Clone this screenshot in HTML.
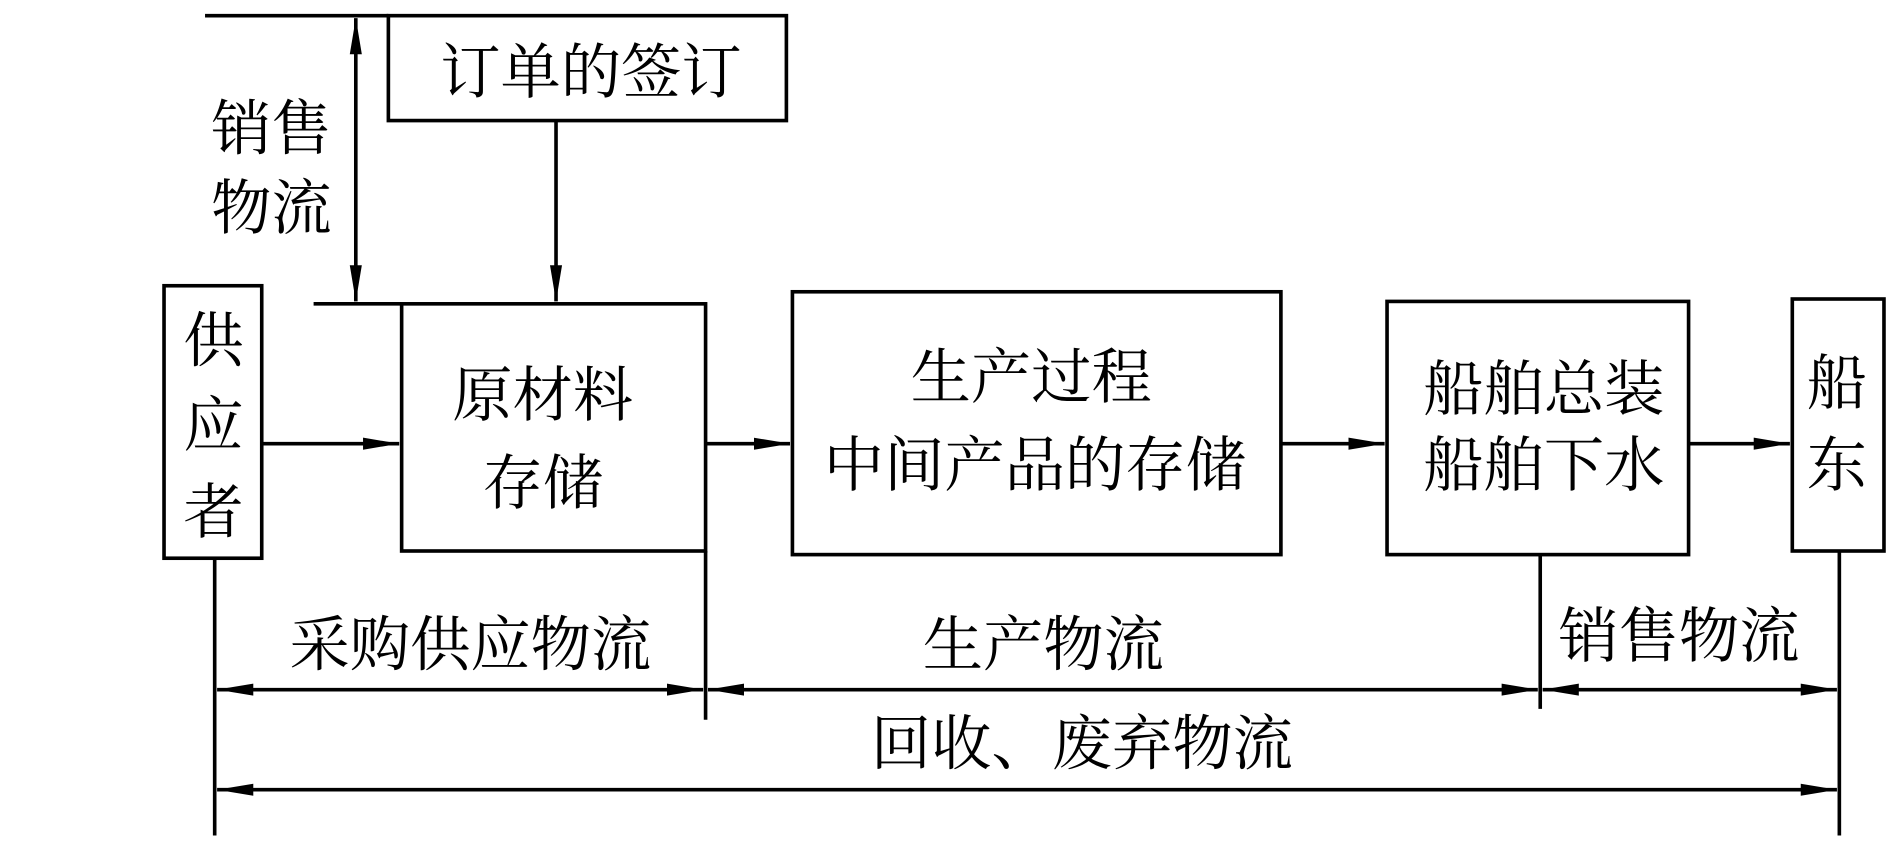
<!DOCTYPE html>
<html><head><meta charset="utf-8"><style>
html,body{margin:0;padding:0;background:#fff;}
svg{display:block;}
text{font-family:"Liberation Serif","Noto Serif CJK SC","Noto Sans CJK SC",serif;font-size:50px;fill:#000;text-anchor:middle;}
</style></head><body>
<svg width="1890" height="850" viewBox="0 0 1567 705" preserveAspectRatio="none" xmlns="http://www.w3.org/2000/svg">
<defs>
<marker id="a" viewBox="0 0 10 10" refX="10" refY="5" markerWidth="12" markerHeight="12" markerUnits="userSpaceOnUse" orient="auto-start-reverse">
<path d="M0,0 L10,5 L0,10 z" fill="#000"/></marker>
<marker id="b" viewBox="0 0 30 10" refX="30" refY="5" markerWidth="30" markerHeight="12" markerUnits="userSpaceOnUse" orient="auto-start-reverse">
<path d="M0,0 L30,5 L0,10 z" fill="#000"/></marker>
</defs>
<g stroke="#000" stroke-width="3" fill="none">
<line x1="170" y1="13" x2="322" y2="13"/>
<rect x="322" y="13" width="330" height="87"/>
<line x1="295" y1="15" x2="295" y2="250" marker-start="url(#b)" marker-end="url(#b)"/>
<line x1="461" y1="100" x2="461" y2="250" marker-end="url(#b)"/>
<line x1="260" y1="252" x2="333" y2="252"/>
<rect x="333" y="252" width="252" height="205"/>
<line x1="585" y1="457" x2="585" y2="597"/>
<rect x="136" y="237" width="81" height="226"/>
<line x1="217" y1="368" x2="331" y2="368" marker-end="url(#b)"/>
<line x1="178" y1="463" x2="178" y2="693"/>
<line x1="585" y1="368" x2="655" y2="368" marker-end="url(#b)"/>
<rect x="657" y="242" width="405" height="218"/>
<line x1="1062" y1="368" x2="1148" y2="368" marker-end="url(#b)"/>
<rect x="1150" y="250" width="250" height="210"/>
<line x1="1400" y1="368" x2="1484" y2="368" marker-end="url(#b)"/>
<rect x="1486" y="248" width="76" height="209"/>
<line x1="1525" y1="457" x2="1525" y2="693"/>
<line x1="1277" y1="460" x2="1277" y2="588"/>
<line x1="180" y1="572" x2="583" y2="572" marker-start="url(#b)" marker-end="url(#b)"/>
<line x1="587" y1="572" x2="1275" y2="572" marker-start="url(#b)" marker-end="url(#b)"/>
<line x1="1279" y1="572" x2="1523" y2="572" marker-start="url(#b)" marker-end="url(#b)"/>
<line x1="180" y1="655" x2="1523" y2="655" marker-start="url(#b)" marker-end="url(#b)"/>
</g>
<text x="490" y="77">订单的签订</text>
<text x="225" y="124">销售</text>
<text x="225" y="190">物流</text>
<text x="177" y="300">供</text>
<text x="177" y="370">应</text>
<text x="177" y="442">者</text>
<text x="450" y="345">原材料</text>
<text x="450" y="418">存储</text>
<text x="855" y="330">生产过程</text>
<text x="858" y="403">中间产品的存储</text>
<text x="1280" y="340">船舶总装</text>
<text x="1280" y="403">船舶下水</text>
<text x="1523" y="335">船</text>
<text x="1523" y="403">东</text>
<text x="390" y="552">采购供应物流</text>
<text x="865" y="552">生产物流</text>
<text x="1392" y="545">销售物流</text>
<text x="897" y="634">回收、废弃物流</text>
</svg>
</body></html>
